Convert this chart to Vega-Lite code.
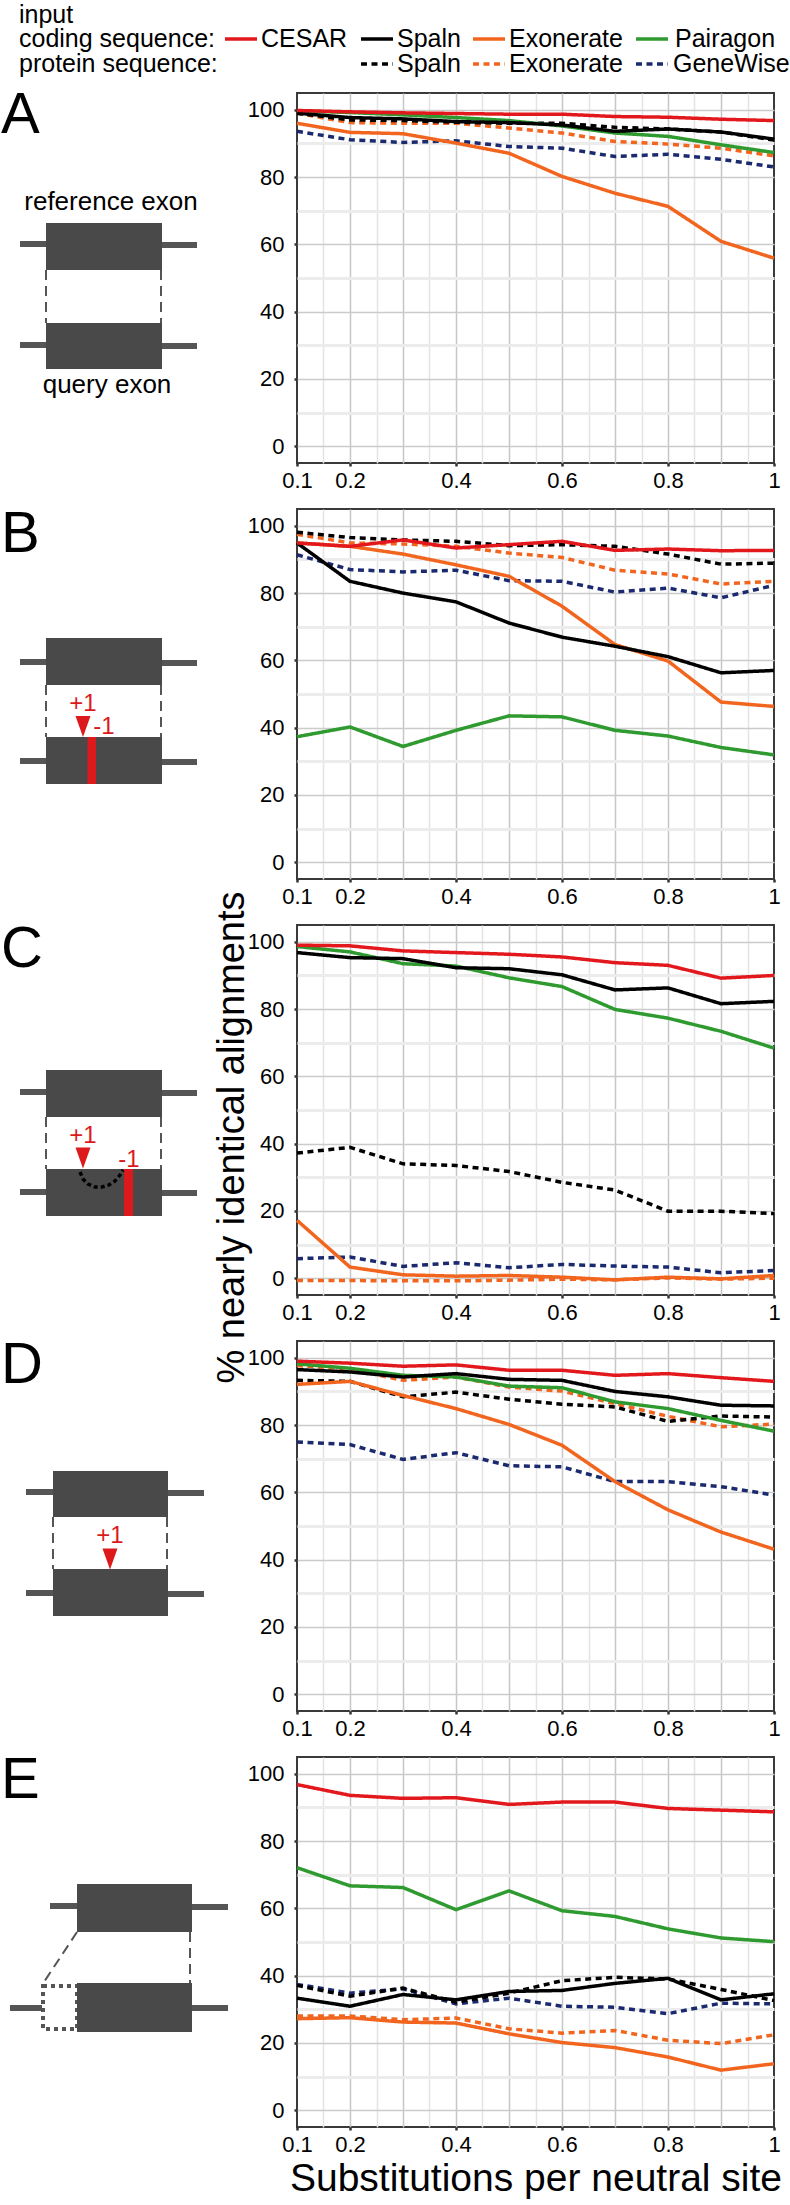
{
"$schema": "https://vega.github.io/schema/vega-lite/v6.json",
"padding": 0,
"background": "white",
"config": {
  "font": "Liberation Sans",
  "view": {"stroke": null},
  "axis": {"domain": false, "tickSize": 3, "tickWidth": 2.5, "tickColor": "#333333", "labelFontSize": 22, "labelColor": "#000000", "gridWidth": 1.5, "titleFontSize": 39, "titleFontWeight": "normal", "titleColor": "#000000"},
  "axisX": {"labelPadding": 4},
  "axisY": {"labelPadding": 10}
},
"datasets": {
  "d": [
    {"p":"A","x":0.1,"CESAR":99.8,"Spaln":99.0,"Exonerate":96.0,"Pairagon":99.7,"SpalnP":99.0,"ExonerateP":99.0,"GeneWise":93.6},
    {"p":"A","x":0.2,"CESAR":99.4,"Spaln":97.7,"Exonerate":93.3,"Pairagon":99.2,"SpalnP":97.0,"ExonerateP":96.2,"GeneWise":91.1},
    {"p":"A","x":0.3,"CESAR":99.1,"Spaln":97.3,"Exonerate":92.9,"Pairagon":98.5,"SpalnP":96.8,"ExonerateP":96.0,"GeneWise":90.3},
    {"p":"A","x":0.4,"CESAR":98.9,"Spaln":96.5,"Exonerate":90.1,"Pairagon":97.7,"SpalnP":96.3,"ExonerateP":96.0,"GeneWise":90.8},
    {"p":"A","x":0.5,"CESAR":98.7,"Spaln":96.2,"Exonerate":87.1,"Pairagon":96.8,"SpalnP":96.0,"ExonerateP":94.6,"GeneWise":89.1},
    {"p":"A","x":0.6,"CESAR":98.7,"Spaln":95.5,"Exonerate":80.2,"Pairagon":95.2,"SpalnP":96.0,"ExonerateP":93.1,"GeneWise":88.6},
    {"p":"A","x":0.7,"CESAR":98.0,"Spaln":93.6,"Exonerate":75.2,"Pairagon":93.1,"SpalnP":94.8,"ExonerateP":90.6,"GeneWise":86.1},
    {"p":"A","x":0.8,"CESAR":97.8,"Spaln":94.3,"Exonerate":71.3,"Pairagon":92.1,"SpalnP":94.3,"ExonerateP":89.8,"GeneWise":86.8},
    {"p":"A","x":0.9,"CESAR":97.2,"Spaln":93.4,"Exonerate":60.9,"Pairagon":89.6,"SpalnP":93.4,"ExonerateP":88.6,"GeneWise":85.3},
    {"p":"A","x":1.0,"CESAR":96.8,"Spaln":91.3,"Exonerate":55.9,"Pairagon":87.3,"SpalnP":91.0,"ExonerateP":86.3,"GeneWise":83.0},
    {"p":"B","x":0.1,"CESAR":94.9,"Spaln":94.9,"Exonerate":94.9,"Pairagon":37.3,"SpalnP":98.1,"ExonerateP":97.5,"GeneWise":91.4},
    {"p":"B","x":0.2,"CESAR":93.9,"Spaln":83.5,"Exonerate":93.9,"Pairagon":40.2,"SpalnP":96.5,"ExonerateP":94.9,"GeneWise":87.0},
    {"p":"B","x":0.3,"CESAR":95.8,"Spaln":80.0,"Exonerate":91.6,"Pairagon":34.4,"SpalnP":95.8,"ExonerateP":94.6,"GeneWise":86.3},
    {"p":"B","x":0.4,"CESAR":93.4,"Spaln":77.4,"Exonerate":88.4,"Pairagon":39.2,"SpalnP":95.4,"ExonerateP":93.9,"GeneWise":86.8},
    {"p":"B","x":0.5,"CESAR":94.4,"Spaln":71.1,"Exonerate":85.0,"Pairagon":43.5,"SpalnP":94.1,"ExonerateP":91.9,"GeneWise":83.7},
    {"p":"B","x":0.6,"CESAR":95.4,"Spaln":66.9,"Exonerate":76.1,"Pairagon":43.2,"SpalnP":94.4,"ExonerateP":90.6,"GeneWise":83.5},
    {"p":"B","x":0.7,"CESAR":92.7,"Spaln":64.2,"Exonerate":64.7,"Pairagon":39.2,"SpalnP":93.9,"ExonerateP":86.8,"GeneWise":80.3},
    {"p":"B","x":0.8,"CESAR":93.1,"Spaln":61.1,"Exonerate":59.8,"Pairagon":37.5,"SpalnP":91.6,"ExonerateP":85.7,"GeneWise":81.5},
    {"p":"B","x":0.9,"CESAR":92.6,"Spaln":56.3,"Exonerate":47.6,"Pairagon":34.1,"SpalnP":88.6,"ExonerateP":82.7,"GeneWise":78.6},
    {"p":"B","x":1.0,"CESAR":92.7,"Spaln":57.0,"Exonerate":46.3,"Pairagon":31.9,"SpalnP":88.9,"ExonerateP":83.5,"GeneWise":82.3},
    {"p":"C","x":0.1,"CESAR":99.0,"Spaln":96.8,"Exonerate":17.2,"Pairagon":98.6,"SpalnP":37.2,"ExonerateP":-0.7,"GeneWise":5.8},
    {"p":"C","x":0.2,"CESAR":98.8,"Spaln":95.3,"Exonerate":3.3,"Pairagon":97.0,"SpalnP":38.9,"ExonerateP":-0.7,"GeneWise":6.3},
    {"p":"C","x":0.3,"CESAR":97.3,"Spaln":95.0,"Exonerate":1.0,"Pairagon":93.5,"SpalnP":34.0,"ExonerateP":-0.8,"GeneWise":3.5},
    {"p":"C","x":0.4,"CESAR":96.8,"Spaln":92.3,"Exonerate":0.6,"Pairagon":92.8,"SpalnP":33.5,"ExonerateP":-0.8,"GeneWise":4.6},
    {"p":"C","x":0.5,"CESAR":96.3,"Spaln":92.0,"Exonerate":0.8,"Pairagon":89.3,"SpalnP":31.7,"ExonerateP":-0.6,"GeneWise":3.1},
    {"p":"C","x":0.6,"CESAR":95.5,"Spaln":90.2,"Exonerate":0.3,"Pairagon":86.7,"SpalnP":28.5,"ExonerateP":-0.3,"GeneWise":4.1},
    {"p":"C","x":0.7,"CESAR":93.8,"Spaln":85.7,"Exonerate":-0.5,"Pairagon":79.9,"SpalnP":26.2,"ExonerateP":-0.5,"GeneWise":3.6},
    {"p":"C","x":0.8,"CESAR":93.0,"Spaln":86.3,"Exonerate":0.3,"Pairagon":77.3,"SpalnP":19.9,"ExonerateP":0.1,"GeneWise":3.3},
    {"p":"C","x":0.9,"CESAR":89.2,"Spaln":81.6,"Exonerate":-0.2,"Pairagon":73.4,"SpalnP":19.9,"ExonerateP":-0.3,"GeneWise":1.6},
    {"p":"C","x":1.0,"CESAR":90.0,"Spaln":82.3,"Exonerate":0.8,"Pairagon":68.4,"SpalnP":19.2,"ExonerateP":0.0,"GeneWise":2.3},
    {"p":"D","x":0.1,"CESAR":99.0,"Spaln":96.5,"Exonerate":92.1,"Pairagon":98.2,"SpalnP":93.3,"ExonerateP":97.7,"GeneWise":75.0},
    {"p":"D","x":0.2,"CESAR":98.4,"Spaln":95.8,"Exonerate":93.0,"Pairagon":96.9,"SpalnP":93.0,"ExonerateP":96.7,"GeneWise":74.2},
    {"p":"D","x":0.3,"CESAR":97.5,"Spaln":94.3,"Exonerate":88.8,"Pairagon":94.8,"SpalnP":88.4,"ExonerateP":93.3,"GeneWise":69.8},
    {"p":"D","x":0.4,"CESAR":97.9,"Spaln":95.3,"Exonerate":84.9,"Pairagon":94.3,"SpalnP":89.8,"ExonerateP":94.3,"GeneWise":71.8},
    {"p":"D","x":0.5,"CESAR":96.3,"Spaln":93.6,"Exonerate":80.2,"Pairagon":91.6,"SpalnP":87.7,"ExonerateP":91.3,"GeneWise":67.9},
    {"p":"D","x":0.6,"CESAR":96.3,"Spaln":93.3,"Exonerate":74.0,"Pairagon":91.1,"SpalnP":86.2,"ExonerateP":90.1,"GeneWise":67.6},
    {"p":"D","x":0.7,"CESAR":94.8,"Spaln":90.0,"Exonerate":63.2,"Pairagon":86.9,"SpalnP":85.4,"ExonerateP":86.4,"GeneWise":63.2},
    {"p":"D","x":0.8,"CESAR":95.3,"Spaln":88.4,"Exonerate":54.8,"Pairagon":84.9,"SpalnP":81.1,"ExonerateP":82.6,"GeneWise":63.2},
    {"p":"D","x":0.9,"CESAR":94.1,"Spaln":85.9,"Exonerate":48.2,"Pairagon":81.4,"SpalnP":82.7,"ExonerateP":79.5,"GeneWise":61.7},
    {"p":"D","x":1.0,"CESAR":93.0,"Spaln":85.7,"Exonerate":43.1,"Pairagon":78.2,"SpalnP":82.4,"ExonerateP":80.3,"GeneWise":59.2},
    {"p":"E","x":0.1,"CESAR":96.8,"Spaln":33.3,"Exonerate":27.2,"Pairagon":72.1,"SpalnP":37.1,"ExonerateP":28.0,"GeneWise":37.4},
    {"p":"E","x":0.2,"CESAR":93.6,"Spaln":30.9,"Exonerate":27.5,"Pairagon":66.7,"SpalnP":33.9,"ExonerateP":28.0,"GeneWise":34.8},
    {"p":"E","x":0.3,"CESAR":92.7,"Spaln":34.4,"Exonerate":26.2,"Pairagon":66.2,"SpalnP":36.3,"ExonerateP":26.9,"GeneWise":36.1},
    {"p":"E","x":0.4,"CESAR":92.9,"Spaln":32.8,"Exonerate":25.9,"Pairagon":59.6,"SpalnP":32.1,"ExonerateP":27.4,"GeneWise":31.6},
    {"p":"E","x":0.5,"CESAR":90.9,"Spaln":35.3,"Exonerate":22.7,"Pairagon":65.2,"SpalnP":34.8,"ExonerateP":24.2,"GeneWise":33.3},
    {"p":"E","x":0.6,"CESAR":91.6,"Spaln":35.6,"Exonerate":20.1,"Pairagon":59.3,"SpalnP":38.5,"ExonerateP":22.9,"GeneWise":30.9},
    {"p":"E","x":0.7,"CESAR":91.6,"Spaln":37.7,"Exonerate":18.6,"Pairagon":57.6,"SpalnP":39.5,"ExonerateP":23.7,"GeneWise":30.6},
    {"p":"E","x":0.8,"CESAR":89.7,"Spaln":39.2,"Exonerate":15.8,"Pairagon":53.9,"SpalnP":39.0,"ExonerateP":20.8,"GeneWise":28.7},
    {"p":"E","x":0.9,"CESAR":89.2,"Spaln":32.8,"Exonerate":11.9,"Pairagon":51.2,"SpalnP":35.9,"ExonerateP":19.8,"GeneWise":31.8},
    {"p":"E","x":1.0,"CESAR":88.7,"Spaln":34.6,"Exonerate":13.8,"Pairagon":50.1,"SpalnP":32.6,"ExonerateP":22.4,"GeneWise":31.6}
  ],
  "leglines": [
    {"s":"CESAR","x":22.5,"x2":25.7,"y":3.9},
    {"s":"Spaln","x":36.1,"x2":39.3,"y":3.9},
    {"s":"Exonerate","x":47.3,"x2":50.5,"y":3.9},
    {"s":"Pairagon","x":63.6,"x2":66.8,"y":3.9},
    {"s":"SpalnP","x":36.1,"x2":39.3,"y":6.4},
    {"s":"ExonerateP","x":47.3,"x2":50.5,"y":6.4},
    {"s":"GeneWise","x":63.6,"x2":66.8,"y":6.4}
  ],
  "legtext": [
    {"t":"input","x":1.9,"y":1.5},
    {"t":"coding sequence:","x":1.9,"y":3.9},
    {"t":"protein sequence:","x":1.9,"y":6.4},
    {"t":"CESAR","x":26.1,"y":3.9},
    {"t":"Spaln","x":39.7,"y":3.9},
    {"t":"Exonerate","x":50.9,"y":3.9},
    {"t":"Pairagon","x":67.5,"y":3.9},
    {"t":"Spaln","x":39.7,"y":6.4},
    {"t":"Exonerate","x":50.9,"y":6.4},
    {"t":"GeneWise","x":67.3,"y":6.4}
  ],
  "dotrect": [{"x":4.3,"x2":7.7,"y":189.3,"y2":193.6}],
  "rects": [
    {"kind":"stub","x":2.0,"x2":4.6,"y":14.8,"y2":15.4},
    {"kind":"stub","x":16.2,"x2":19.7,"y":14.9,"y2":15.5},
    {"kind":"stub","x":2.0,"x2":4.6,"y":24.9,"y2":25.5},
    {"kind":"stub","x":16.2,"x2":19.7,"y":25.0,"y2":25.6},
    {"kind":"box","x":4.6,"x2":16.2,"y":13.0,"y2":17.7},
    {"kind":"box","x":4.6,"x2":16.2,"y":23.0,"y2":27.6},
    {"kind":"stub","x":2.0,"x2":4.6,"y":56.6,"y2":57.2},
    {"kind":"stub","x":16.2,"x2":19.7,"y":56.7,"y2":57.3},
    {"kind":"stub","x":2.0,"x2":4.6,"y":66.5,"y2":67.1},
    {"kind":"stub","x":16.2,"x2":19.7,"y":66.6,"y2":67.2},
    {"kind":"box","x":4.6,"x2":16.2,"y":54.5,"y2":59.2},
    {"kind":"box","x":4.6,"x2":16.2,"y":64.4,"y2":69.1},
    {"kind":"bar","x":8.75,"x2":9.6,"y":64.4,"y2":69.1},
    {"kind":"stub","x":2.0,"x2":4.6,"y":99.6,"y2":100.2},
    {"kind":"stub","x":16.2,"x2":19.7,"y":99.7,"y2":100.3},
    {"kind":"stub","x":2.0,"x2":4.6,"y":109.6,"y2":110.2},
    {"kind":"stub","x":16.2,"x2":19.7,"y":109.7,"y2":110.3},
    {"kind":"box","x":4.6,"x2":16.2,"y":97.7,"y2":102.4},
    {"kind":"box","x":4.6,"x2":16.2,"y":107.6,"y2":112.3},
    {"kind":"bar","x":12.4,"x2":13.3,"y":107.6,"y2":112.3},
    {"kind":"stub","x":2.6,"x2":5.3,"y":139.6,"y2":140.2},
    {"kind":"stub","x":16.8,"x2":20.4,"y":139.7,"y2":140.3},
    {"kind":"stub","x":2.6,"x2":5.3,"y":149.7,"y2":150.3},
    {"kind":"stub","x":16.8,"x2":20.4,"y":149.8,"y2":150.4},
    {"kind":"box","x":5.3,"x2":16.8,"y":137.8,"y2":142.4},
    {"kind":"box","x":5.3,"x2":16.8,"y":147.6,"y2":152.3},
    {"kind":"stub","x":5.0,"x2":7.7,"y":181.0,"y2":181.6},
    {"kind":"stub","x":19.2,"x2":22.8,"y":181.1,"y2":181.7},
    {"kind":"stub","x":1.0,"x2":4.2,"y":191.2,"y2":191.8},
    {"kind":"stub","x":19.2,"x2":22.8,"y":191.2,"y2":191.8},
    {"kind":"box","x":7.7,"x2":19.2,"y":179.1,"y2":183.9},
    {"kind":"box","x":7.7,"x2":19.2,"y":189.0,"y2":193.9}
  ],
  "links": [
    {"x":4.6,"y":17.7,"x2":4.6,"y2":23.0},
    {"x":16.1,"y":17.7,"x2":16.1,"y2":23.0},
    {"x":4.6,"y":59.2,"x2":4.6,"y2":64.4},
    {"x":16.1,"y":59.2,"x2":16.1,"y2":64.4},
    {"x":4.6,"y":102.4,"x2":4.6,"y2":107.6},
    {"x":16.1,"y":102.4,"x2":16.1,"y2":107.6},
    {"x":5.3,"y":142.4,"x2":5.3,"y2":147.6},
    {"x":16.7,"y":142.4,"x2":16.7,"y2":147.6},
    {"x":7.7,"y":183.9,"x2":4.4,"y2":188.9},
    {"x":19.0,"y":183.9,"x2":19.0,"y2":189.0}
  ],
  "arc": [
    {"i":1,"x":8.0,"y":107.9},
    {"i":2,"x":8.3,"y":108.6},
    {"i":3,"x":8.8,"y":109.1},
    {"i":4,"x":9.5,"y":109.4},
    {"i":5,"x":10.2,"y":109.4},
    {"i":6,"x":10.9,"y":109.2},
    {"i":7,"x":11.5,"y":108.8},
    {"i":8,"x":12.0,"y":108.2},
    {"i":9,"x":12.3,"y":107.7}
  ],
  "tris": [
    {"x":8.3,"y":63.35},
    {"x":8.3,"y":106.5},
    {"x":11.0,"y":146.6}
  ],
  "letters": [
    {"t":"A","x":0.1,"y":4.0},
    {"t":"B","x":0.1,"y":45.9},
    {"t":"C","x":0.1,"y":87.4},
    {"t":"D","x":0.1,"y":129.0},
    {"t":"E","x":0.1,"y":170.5}
  ],
  "labels": [
    {"t":"reference exon","x":11.1,"y":10.9},
    {"t":"query exon","x":10.7,"y":29.2}
  ],
  "redtexts": [
    {"t":"+1","x":8.3,"y":61.1},
    {"t":"-1","x":10.4,"y":63.4},
    {"t":"+1","x":8.3,"y":104.3},
    {"t":"-1","x":12.9,"y":106.7},
    {"t":"+1","x":11.0,"y":144.3}
  ]
},
"spacing": 13,
"bounds": "flush",
"vconcat": [
  {
    "width": 790, "height": 80,
    "view": {"stroke": null},
    "layer": [
      {
        "data": {"name": "leglines"},
        "mark": {"type": "rule", "strokeWidth": 3.5},
        "encoding": {
          "x": {"field": "x", "type": "quantitative", "scale": {"domain": [0, 79], "nice": false, "zero": false}, "axis": null},
          "x2": {"field": "x2"},
          "y": {"field": "y", "type": "quantitative", "scale": {"domain": [0, 8], "reverse": true, "nice": false, "zero": false}, "axis": null},
          "color": {"field": "s", "type": "nominal", "scale": {"domain": ["CESAR","Spaln","Exonerate","Pairagon","SpalnP","ExonerateP","GeneWise"], "range": ["#e3181d","#000000","#f2651f","#2f9a2f","#000000","#f2651f","#1b2a6e"]}, "legend": null},
          "strokeDash": {"field": "s", "type": "nominal", "scale": {"domain": ["CESAR","Spaln","Exonerate","Pairagon","SpalnP","ExonerateP","GeneWise"], "range": [[1,0],[1,0],[1,0],[1,0],[6,4.5],[6,4.5],[6,4.5]]}, "legend": null}
        }
      },
      {
        "data": {"name": "legtext"},
        "mark": {"type": "text", "align": "left", "baseline": "middle", "fontSize": 25, "color": "#000000"},
        "encoding": {
          "x": {"field": "x", "type": "quantitative", "scale": {"domain": [0, 79], "nice": false, "zero": false}, "axis": null},
          "y": {"field": "y", "type": "quantitative", "scale": {"domain": [0, 8], "reverse": true, "nice": false, "zero": false}, "axis": null},
          "text": {"field": "t"}
        }
      }
    ]
  },
  {
    "spacing": 47,
    "bounds": "flush",
    "hconcat": [
      {
        "width": 250, "height": 2034,
        "view": {"stroke": null},
        "layer": [
          {
            "data": {"name": "dotrect"},
            "mark": {"type": "rect", "filled": false, "fill": null, "stroke": "#555555", "strokeWidth": 4, "strokeDash": [4, 4]},
            "encoding": {
              "x": {"field": "x", "type": "quantitative", "scale": {"domain": [0, 25], "nice": false, "zero": false}, "axis": null},
              "x2": {"field": "x2"},
              "y": {"field": "y", "type": "quantitative", "scale": {"domain": [0, 203.4], "reverse": true, "nice": false, "zero": false}, "axis": null},
              "y2": {"field": "y2"}
            }
          },
          {
            "data": {"name": "rects"},
            "mark": {"type": "rect"},
            "encoding": {
              "x": {"field": "x", "type": "quantitative", "scale": {"domain": [0, 25], "nice": false, "zero": false}, "axis": null},
              "x2": {"field": "x2"},
              "y": {"field": "y", "type": "quantitative", "scale": {"domain": [0, 203.4], "reverse": true, "nice": false, "zero": false}, "axis": null},
              "y2": {"field": "y2"},
              "fill": {"field": "kind", "type": "nominal", "scale": {"domain": ["stub","box","bar"], "range": ["#555555","#494949","#dc1a1c"]}, "legend": null}
            }
          },
          {
            "data": {"name": "links"},
            "mark": {"type": "rule", "stroke": "#555555", "strokeWidth": 2, "strokeDash": [10, 6]},
            "encoding": {
              "x": {"field": "x", "type": "quantitative", "axis": null},
              "y": {"field": "y", "type": "quantitative", "axis": null},
              "x2": {"field": "x2"},
              "y2": {"field": "y2"}
            }
          },
          {
            "data": {"name": "arc"},
            "mark": {"type": "line", "stroke": "#000000", "strokeWidth": 3.5, "strokeDash": [4, 3]},
            "encoding": {
              "x": {"field": "x", "type": "quantitative", "axis": null},
              "y": {"field": "y", "type": "quantitative", "axis": null},
              "order": {"field": "i", "type": "quantitative"}
            }
          },
          {
            "data": {"name": "tris"},
            "mark": {"type": "point", "shape": "M-0.714,-1L0.714,-1L0,1Z", "size": 441, "filled": true, "fill": "#dc1a1c", "strokeWidth": 0, "opacity": 1},
            "encoding": {
              "x": {"field": "x", "type": "quantitative", "axis": null},
              "y": {"field": "y", "type": "quantitative", "axis": null}
            }
          },
          {
            "data": {"name": "letters"},
            "mark": {"type": "text", "align": "left", "baseline": "alphabetic", "fontSize": 58, "font": "Liberation Sans Narrow, Liberation Sans", "fill": "#000000"},
            "encoding": {
              "x": {"field": "x", "type": "quantitative", "axis": null},
              "y": {"field": "y", "type": "quantitative", "axis": null},
              "text": {"field": "t"}
            }
          },
          {
            "data": {"name": "labels"},
            "mark": {"type": "text", "align": "center", "baseline": "middle", "fontSize": 26, "fill": "#000000"},
            "encoding": {
              "x": {"field": "x", "type": "quantitative", "axis": null},
              "y": {"field": "y", "type": "quantitative", "axis": null},
              "text": {"field": "t"}
            }
          },
          {
            "data": {"name": "redtexts"},
            "mark": {"type": "text", "align": "center", "baseline": "middle", "fontSize": 24, "fill": "#dc1a1c"},
            "encoding": {
              "x": {"field": "x", "type": "quantitative", "axis": null},
              "y": {"field": "y", "type": "quantitative", "axis": null},
              "text": {"field": "t"}
            }
          }
        ]
      },
      {
        "spacing": 46,
        "bounds": "flush",
        "vconcat": [
          {
            "width": 477, "height": 370,
            "view": {"stroke": "#3a3a3a", "strokeWidth": 2},
            "data": {"name": "d"},
            "transform": [{"filter": "datum.p == 'A'"}, {"fold": ["GeneWise","ExonerateP","SpalnP","Pairagon","Exonerate","Spaln","CESAR"], "as": ["series","value"]}],
            "mark": {"type": "line", "strokeWidth": 3.5},
            "encoding": {
              "x": {"field": "x", "type": "quantitative", "scale": {"domain": [0.1, 1], "nice": false, "zero": false},
                "axis": {"title": null, "values": [0.1,0.15,0.2,0.25,0.3,0.35,0.4,0.45,0.5,0.55,0.6,0.65,0.7,0.75,0.8,0.85,0.9,0.95,1], "labelFlush": false, "labelOverlap": false,
                  "labelExpr": "indexof(['0.1','0.2','0.4','0.6','0.8','1'], format(datum.value, '.2~f')) >= 0 ? format(datum.value, '.2~f') : ''",
                  "tickOpacity": {"condition": {"test": "indexof(['0.1','0.2','0.4','0.6','0.8','1'], format(datum.value, '.2~f')) >= 0", "value": 1}, "value": 0},
                  "gridColor": {"condition": {"test": "round(datum.value * 20) % 2 == 1", "value": "#e4e4e4"}, "value": "#c6c6c6"},
                  "gridOpacity": {"condition": {"test": "datum.value < 0.11 || datum.value > 0.99", "value": 0}, "value": 1}}},
              "y": {"field": "value", "type": "quantitative", "scale": {"domain": [-5, 105], "nice": false, "zero": false},
                "axis": {"title": null, "values": [0,10,20,30,40,50,60,70,80,90,100], "labelOverlap": false,
                  "labelExpr": "datum.value % 20 == 0 ? datum.label : ''",
                  "tickOpacity": {"condition": {"test": "datum.value % 20 == 0", "value": 1}, "value": 0},
                  "gridColor": {"condition": {"test": "datum.value % 20 == 0", "value": "#cbcbcb"}, "value": "#ececec"},
                  "gridWidth": {"condition": {"test": "datum.value % 20 == 0", "value": 1.5}, "value": 3}}},
              "color": {"field": "series", "type": "nominal", "scale": {"domain": ["CESAR","Spaln","Exonerate","Pairagon","SpalnP","ExonerateP","GeneWise"], "range": ["#e3181d","#000000","#f2651f","#2f9a2f","#000000","#f2651f","#1b2a6e"]}, "legend": null},
              "strokeDash": {"field": "series", "type": "nominal", "scale": {"domain": ["CESAR","Spaln","Exonerate","Pairagon","SpalnP","ExonerateP","GeneWise"], "range": [[1,0],[1,0],[1,0],[1,0],[6,4.5],[6,4.5],[6,4.5]]}, "legend": null}
            }
          },
          {
            "width": 477, "height": 370,
            "view": {"stroke": "#3a3a3a", "strokeWidth": 2},
            "data": {"name": "d"},
            "transform": [{"filter": "datum.p == 'B'"}, {"fold": ["GeneWise","ExonerateP","SpalnP","Pairagon","Exonerate","Spaln","CESAR"], "as": ["series","value"]}],
            "mark": {"type": "line", "strokeWidth": 3.5},
            "encoding": {
              "x": {"field": "x", "type": "quantitative", "scale": {"domain": [0.1, 1], "nice": false, "zero": false},
                "axis": {"title": null, "values": [0.1,0.15,0.2,0.25,0.3,0.35,0.4,0.45,0.5,0.55,0.6,0.65,0.7,0.75,0.8,0.85,0.9,0.95,1], "labelFlush": false, "labelOverlap": false,
                  "labelExpr": "indexof(['0.1','0.2','0.4','0.6','0.8','1'], format(datum.value, '.2~f')) >= 0 ? format(datum.value, '.2~f') : ''",
                  "tickOpacity": {"condition": {"test": "indexof(['0.1','0.2','0.4','0.6','0.8','1'], format(datum.value, '.2~f')) >= 0", "value": 1}, "value": 0},
                  "gridColor": {"condition": {"test": "round(datum.value * 20) % 2 == 1", "value": "#e4e4e4"}, "value": "#c6c6c6"},
                  "gridOpacity": {"condition": {"test": "datum.value < 0.11 || datum.value > 0.99", "value": 0}, "value": 1}}},
              "y": {"field": "value", "type": "quantitative", "scale": {"domain": [-5, 105], "nice": false, "zero": false},
                "axis": {"title": null, "values": [0,10,20,30,40,50,60,70,80,90,100], "labelOverlap": false,
                  "labelExpr": "datum.value % 20 == 0 ? datum.label : ''",
                  "tickOpacity": {"condition": {"test": "datum.value % 20 == 0", "value": 1}, "value": 0},
                  "gridColor": {"condition": {"test": "datum.value % 20 == 0", "value": "#cbcbcb"}, "value": "#ececec"},
                  "gridWidth": {"condition": {"test": "datum.value % 20 == 0", "value": 1.5}, "value": 3}}},
              "color": {"field": "series", "type": "nominal", "scale": {"domain": ["CESAR","Spaln","Exonerate","Pairagon","SpalnP","ExonerateP","GeneWise"], "range": ["#e3181d","#000000","#f2651f","#2f9a2f","#000000","#f2651f","#1b2a6e"]}, "legend": null},
              "strokeDash": {"field": "series", "type": "nominal", "scale": {"domain": ["CESAR","Spaln","Exonerate","Pairagon","SpalnP","ExonerateP","GeneWise"], "range": [[1,0],[1,0],[1,0],[1,0],[6,4.5],[6,4.5],[6,4.5]]}, "legend": null}
            }
          },
          {
            "width": 477, "height": 370,
            "view": {"stroke": "#3a3a3a", "strokeWidth": 2},
            "data": {"name": "d"},
            "transform": [{"filter": "datum.p == 'C'"}, {"fold": ["GeneWise","ExonerateP","SpalnP","Pairagon","Exonerate","Spaln","CESAR"], "as": ["series","value"]}],
            "mark": {"type": "line", "strokeWidth": 3.5},
            "encoding": {
              "x": {"field": "x", "type": "quantitative", "scale": {"domain": [0.1, 1], "nice": false, "zero": false},
                "axis": {"title": null, "values": [0.1,0.15,0.2,0.25,0.3,0.35,0.4,0.45,0.5,0.55,0.6,0.65,0.7,0.75,0.8,0.85,0.9,0.95,1], "labelFlush": false, "labelOverlap": false,
                  "labelExpr": "indexof(['0.1','0.2','0.4','0.6','0.8','1'], format(datum.value, '.2~f')) >= 0 ? format(datum.value, '.2~f') : ''",
                  "tickOpacity": {"condition": {"test": "indexof(['0.1','0.2','0.4','0.6','0.8','1'], format(datum.value, '.2~f')) >= 0", "value": 1}, "value": 0},
                  "gridColor": {"condition": {"test": "round(datum.value * 20) % 2 == 1", "value": "#e4e4e4"}, "value": "#c6c6c6"},
                  "gridOpacity": {"condition": {"test": "datum.value < 0.11 || datum.value > 0.99", "value": 0}, "value": 1}}},
              "y": {"field": "value", "type": "quantitative", "scale": {"domain": [-5, 105], "nice": false, "zero": false},
                "axis": {"title": "% nearly identical alignments", "titleX": -65, "titleY": 212, "titleAngle": 270, "titleAlign": "center", "titleBaseline": "middle", "titleFontSize": 38,
                  "values": [0,10,20,30,40,50,60,70,80,90,100], "labelOverlap": false,
                  "labelExpr": "datum.value % 20 == 0 ? datum.label : ''",
                  "tickOpacity": {"condition": {"test": "datum.value % 20 == 0", "value": 1}, "value": 0},
                  "gridColor": {"condition": {"test": "datum.value % 20 == 0", "value": "#cbcbcb"}, "value": "#ececec"},
                  "gridWidth": {"condition": {"test": "datum.value % 20 == 0", "value": 1.5}, "value": 3}}},
              "color": {"field": "series", "type": "nominal", "scale": {"domain": ["CESAR","Spaln","Exonerate","Pairagon","SpalnP","ExonerateP","GeneWise"], "range": ["#e3181d","#000000","#f2651f","#2f9a2f","#000000","#f2651f","#1b2a6e"]}, "legend": null},
              "strokeDash": {"field": "series", "type": "nominal", "scale": {"domain": ["CESAR","Spaln","Exonerate","Pairagon","SpalnP","ExonerateP","GeneWise"], "range": [[1,0],[1,0],[1,0],[1,0],[6,4.5],[6,4.5],[6,4.5]]}, "legend": null}
            }
          },
          {
            "width": 477, "height": 370,
            "view": {"stroke": "#3a3a3a", "strokeWidth": 2},
            "data": {"name": "d"},
            "transform": [{"filter": "datum.p == 'D'"}, {"fold": ["GeneWise","ExonerateP","SpalnP","Pairagon","Exonerate","Spaln","CESAR"], "as": ["series","value"]}],
            "mark": {"type": "line", "strokeWidth": 3.5},
            "encoding": {
              "x": {"field": "x", "type": "quantitative", "scale": {"domain": [0.1, 1], "nice": false, "zero": false},
                "axis": {"title": null, "values": [0.1,0.15,0.2,0.25,0.3,0.35,0.4,0.45,0.5,0.55,0.6,0.65,0.7,0.75,0.8,0.85,0.9,0.95,1], "labelFlush": false, "labelOverlap": false,
                  "labelExpr": "indexof(['0.1','0.2','0.4','0.6','0.8','1'], format(datum.value, '.2~f')) >= 0 ? format(datum.value, '.2~f') : ''",
                  "tickOpacity": {"condition": {"test": "indexof(['0.1','0.2','0.4','0.6','0.8','1'], format(datum.value, '.2~f')) >= 0", "value": 1}, "value": 0},
                  "gridColor": {"condition": {"test": "round(datum.value * 20) % 2 == 1", "value": "#e4e4e4"}, "value": "#c6c6c6"},
                  "gridOpacity": {"condition": {"test": "datum.value < 0.11 || datum.value > 0.99", "value": 0}, "value": 1}}},
              "y": {"field": "value", "type": "quantitative", "scale": {"domain": [-5, 105], "nice": false, "zero": false},
                "axis": {"title": null, "values": [0,10,20,30,40,50,60,70,80,90,100], "labelOverlap": false,
                  "labelExpr": "datum.value % 20 == 0 ? datum.label : ''",
                  "tickOpacity": {"condition": {"test": "datum.value % 20 == 0", "value": 1}, "value": 0},
                  "gridColor": {"condition": {"test": "datum.value % 20 == 0", "value": "#cbcbcb"}, "value": "#ececec"},
                  "gridWidth": {"condition": {"test": "datum.value % 20 == 0", "value": 1.5}, "value": 3}}},
              "color": {"field": "series", "type": "nominal", "scale": {"domain": ["CESAR","Spaln","Exonerate","Pairagon","SpalnP","ExonerateP","GeneWise"], "range": ["#e3181d","#000000","#f2651f","#2f9a2f","#000000","#f2651f","#1b2a6e"]}, "legend": null},
              "strokeDash": {"field": "series", "type": "nominal", "scale": {"domain": ["CESAR","Spaln","Exonerate","Pairagon","SpalnP","ExonerateP","GeneWise"], "range": [[1,0],[1,0],[1,0],[1,0],[6,4.5],[6,4.5],[6,4.5]]}, "legend": null}
            }
          },
          {
            "width": 477, "height": 370,
            "view": {"stroke": "#3a3a3a", "strokeWidth": 2},
            "data": {"name": "d"},
            "transform": [{"filter": "datum.p == 'E'"}, {"fold": ["GeneWise","ExonerateP","SpalnP","Pairagon","Exonerate","Spaln","CESAR"], "as": ["series","value"]}],
            "mark": {"type": "line", "strokeWidth": 3.5},
            "encoding": {
              "x": {"field": "x", "type": "quantitative", "scale": {"domain": [0.1, 1], "nice": false, "zero": false},
                "axis": {"title": "Substitutions per neutral site", "titlePadding": 4, "values": [0.1,0.15,0.2,0.25,0.3,0.35,0.4,0.45,0.5,0.55,0.6,0.65,0.7,0.75,0.8,0.85,0.9,0.95,1], "labelFlush": false, "labelOverlap": false,
                  "labelExpr": "indexof(['0.1','0.2','0.4','0.6','0.8','1'], format(datum.value, '.2~f')) >= 0 ? format(datum.value, '.2~f') : ''",
                  "tickOpacity": {"condition": {"test": "indexof(['0.1','0.2','0.4','0.6','0.8','1'], format(datum.value, '.2~f')) >= 0", "value": 1}, "value": 0},
                  "gridColor": {"condition": {"test": "round(datum.value * 20) % 2 == 1", "value": "#e4e4e4"}, "value": "#c6c6c6"},
                  "gridOpacity": {"condition": {"test": "datum.value < 0.11 || datum.value > 0.99", "value": 0}, "value": 1}}},
              "y": {"field": "value", "type": "quantitative", "scale": {"domain": [-5, 105], "nice": false, "zero": false},
                "axis": {"title": null, "values": [0,10,20,30,40,50,60,70,80,90,100], "labelOverlap": false,
                  "labelExpr": "datum.value % 20 == 0 ? datum.label : ''",
                  "tickOpacity": {"condition": {"test": "datum.value % 20 == 0", "value": 1}, "value": 0},
                  "gridColor": {"condition": {"test": "datum.value % 20 == 0", "value": "#cbcbcb"}, "value": "#ececec"},
                  "gridWidth": {"condition": {"test": "datum.value % 20 == 0", "value": 1.5}, "value": 3}}},
              "color": {"field": "series", "type": "nominal", "scale": {"domain": ["CESAR","Spaln","Exonerate","Pairagon","SpalnP","ExonerateP","GeneWise"], "range": ["#e3181d","#000000","#f2651f","#2f9a2f","#000000","#f2651f","#1b2a6e"]}, "legend": null},
              "strokeDash": {"field": "series", "type": "nominal", "scale": {"domain": ["CESAR","Spaln","Exonerate","Pairagon","SpalnP","ExonerateP","GeneWise"], "range": [[1,0],[1,0],[1,0],[1,0],[6,4.5],[6,4.5],[6,4.5]]}, "legend": null}
            }
          }
        ]
      }
    ]
  }
]
}
